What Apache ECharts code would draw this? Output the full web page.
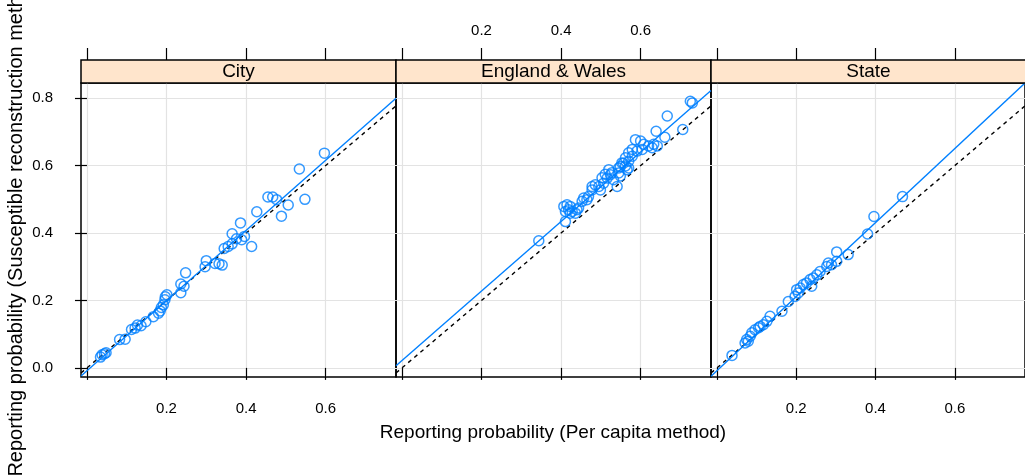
<!DOCTYPE html>
<html><head><meta charset="utf-8">
<script src="https://cdn.jsdelivr.net/npm/echarts@6/dist/echarts.min.js"></script>
<style>html,body{margin:0;padding:0;background:#fff}#c{width:1025px;height:475px}</style>
</head><body><div id="c"></div>
<script>
// ---- data ----
const panels = ['City', 'England & Wales', 'State'];
const xTicks = [0, 0.2, 0.4, 0.6];
const xTickLabels = [0.2, 0.4, 0.6];
const yTicks = [0, 0.2, 0.4, 0.6, 0.8];
const xRange = [-0.015, 0.777];
const yRange = [-0.027, 0.845];
const xTitle = 'Reporting probability (Per capita method)';
const yTitle = 'Reporting probability (Susceptible reconstruction method)';

const cityPts = [[0.034,0.032],[0.038,0.039],[0.044,0.042],[0.048,0.045],[0.082,0.084],[0.096,0.085],
[0.112,0.114],[0.121,0.118],[0.127,0.127],[0.136,0.125],[0.148,0.137],[0.167,0.152],[0.180,0.162],
[0.184,0.169],[0.187,0.179],[0.192,0.187],[0.196,0.202],[0.197,0.211],[0.201,0.217],[0.236,0.223],
[0.236,0.249],[0.244,0.242],[0.248,0.282],[0.297,0.300],[0.300,0.318],[0.322,0.310],[0.332,0.309],
[0.340,0.305],[0.345,0.354],[0.355,0.360],[0.365,0.368],[0.376,0.383],[0.389,0.380],[0.365,0.398],
[0.396,0.390],[0.386,0.430],[0.414,0.360],[0.427,0.463],[0.455,0.507],[0.467,0.507],[0.477,0.499],
[0.489,0.450],[0.506,0.483],[0.548,0.500],[0.534,0.590],[0.597,0.637]];

const englandPts = [[0.344,0.377],[0.411,0.434],[0.407,0.479],[0.415,0.484],[0.423,0.479],[0.419,0.469],
[0.428,0.464],[0.436,0.459],[0.440,0.469],[0.444,0.474],[0.411,0.464],[0.423,0.459],[0.457,0.504],
[0.465,0.499],[0.453,0.494],[0.469,0.508],[0.478,0.538],[0.486,0.543],[0.495,0.538],[0.499,0.528],
[0.478,0.528],[0.507,0.548],[0.516,0.563],[0.524,0.573],[0.532,0.558],[0.545,0.578],[0.549,0.597],
[0.557,0.607],[0.566,0.588],[0.541,0.538],[0.503,0.564],[0.511,0.574],[0.528,0.579],[0.520,0.588],
[0.545,0.593],[0.549,0.569],[0.562,0.599],[0.553,0.608],[0.570,0.613],[0.562,0.623],[0.579,0.628],
[0.570,0.593],[0.604,0.648],[0.591,0.643],[0.570,0.638],[0.579,0.648],[0.629,0.653],[0.642,0.658],
[0.633,0.663],[0.620,0.658],[0.608,0.663],[0.600,0.673],[0.587,0.677],[0.661,0.684],[0.639,0.702],
[0.706,0.707],[0.667,0.747],[0.725,0.791],[0.730,0.786]];

const statePts = [[0.038,0.037],[0.071,0.074],[0.075,0.084],[0.079,0.079],[0.084,0.094],[0.088,0.104],
[0.096,0.113],[0.105,0.119],[0.109,0.123],[0.117,0.128],[0.126,0.138],[0.134,0.153],[0.164,0.168],
[0.180,0.197],[0.197,0.212],[0.205,0.222],[0.201,0.232],[0.210,0.237],[0.218,0.247],[0.226,0.252],
[0.239,0.242],[0.235,0.262],[0.243,0.267],[0.252,0.276],[0.260,0.286],[0.277,0.301],[0.281,0.311],
[0.289,0.306],[0.302,0.316],[0.302,0.344],[0.331,0.336],[0.380,0.397],[0.396,0.449],[0.468,0.508]];

// fitted (solid blue) lines, endpoints
const cityFit = [[-0.015,-0.024],[0.777,0.800]];
const englandFit = [[-0.015,0.0065],[0.777,0.823]];
const stateFit = [[-0.015,-0.0245],[0.777,0.845]];
// y = x reference (dashed)
const identityLine = [[-0.015,-0.015],[0.777,0.777]];

const panelPts = [cityPts, englandPts, statePts];
const panelFit = [cityFit, englandFit, stateFit];

// ---- chart ----
const FONT = '"Liberation Sans", Arial, Helvetica, sans-serif';
const BLUE = '#0080ff';
const lefts = [81, 396, 711];
const W = 315, TOP = 83, H = 294, STRIP = 23;
const fmt = v => Number(v).toFixed(1);

const grid = lefts.map(l => ({left: l, top: TOP, width: W, height: H, show: true,
  borderColor: '#000', borderWidth: 1.5, backgroundColor: 'transparent'}));

const xAxis = [];
lefts.forEach((l, i) => {
  xAxis.push({gridIndex: i, type: 'value', min: xRange[0], max: xRange[1], position: 'bottom',
    axisLine: {show: false},
    axisTick: {show: true, length: 12, customValues: xTicks, lineStyle: {color: '#000', width: 1.2}},
    axisLabel: {show: i !== 1, customValues: xTickLabels, margin: 24, fontSize: 15, color: '#000',
      fontFamily: FONT, formatter: fmt},
    splitLine: {show: true, lineStyle: {color: '#e3e3e3', width: 1.2}}});
});
lefts.forEach((l, i) => {
  xAxis.push({gridIndex: i, type: 'value', min: xRange[0], max: xRange[1], position: 'top', offset: STRIP,
    axisLine: {show: false},
    axisTick: {show: true, length: 12, customValues: xTicks, lineStyle: {color: '#000', width: 1.2}},
    axisLabel: {show: i === 1, customValues: xTickLabels, margin: 22, fontSize: 15, color: '#000',
      fontFamily: FONT, formatter: fmt},
    splitLine: {show: false}});
});
const yAxis = lefts.map((l, i) => ({gridIndex: i, type: 'value', min: yRange[0], max: yRange[1],
  axisLine: {show: false},
  axisTick: {show: i === 0, length: 12, customValues: yTicks, lineStyle: {color: '#000', width: 1.2}},
  axisLabel: {show: i === 0, customValues: yTicks, margin: 28, fontSize: 15, color: '#000',
    fontFamily: FONT, formatter: fmt},
  splitLine: {show: true, lineStyle: {color: '#e3e3e3', width: 1.2}}}));

const series = [];
panels.forEach((p, i) => {
  series.push({type: 'line', xAxisIndex: i, yAxisIndex: i, data: identityLine, symbol: 'none',
    clip: true, silent: true, z: 2,
    lineStyle: {color: '#000', width: 1.4, type: [4, 4]}});
  series.push({type: 'line', xAxisIndex: i, yAxisIndex: i, data: panelFit[i], symbol: 'none',
    clip: true, silent: true, z: 3,
    lineStyle: {color: BLUE, width: 1.4}});
  series.push({type: 'scatter', xAxisIndex: i, yAxisIndex: i, data: panelPts[i], symbol: 'circle',
    symbolSize: 10, clip: true, z: 4,
    itemStyle: {color: 'transparent', borderColor: BLUE, borderWidth: 1.5}});
});

const graphic = [];
panels.forEach((p, i) => {
  graphic.push({type: 'rect', shape: {x: lefts[i], y: TOP - STRIP, width: W, height: STRIP},
    style: {fill: '#ffe5cc', stroke: '#000', lineWidth: 1.5}, z: 10});
  graphic.push({type: 'text', x: lefts[i] + W / 2, y: TOP - STRIP / 2, z: 11,
    style: {text: p, fill: '#000', font: '19px ' + FONT, textAlign: 'center', textVerticalAlign: 'middle'}});
});
graphic.push({type: 'text', x: 553, y: 433, z: 11,
  style: {text: xTitle, fill: '#000', font: '19px ' + FONT, textAlign: 'center', textVerticalAlign: 'middle'}});
graphic.push({type: 'text', x: 16, y: 222, rotation: Math.PI / 2, z: 11,
  style: {text: yTitle, fill: '#000', font: '20px ' + FONT, textAlign: 'center', textVerticalAlign: 'middle'}});

const chart = echarts.init(document.getElementById('c'), null, {renderer: 'canvas'});
chart.setOption({animation: false, backgroundColor: '#fff', textStyle: {fontFamily: FONT},
  grid, xAxis, yAxis, series, graphic});
</script></body></html>
